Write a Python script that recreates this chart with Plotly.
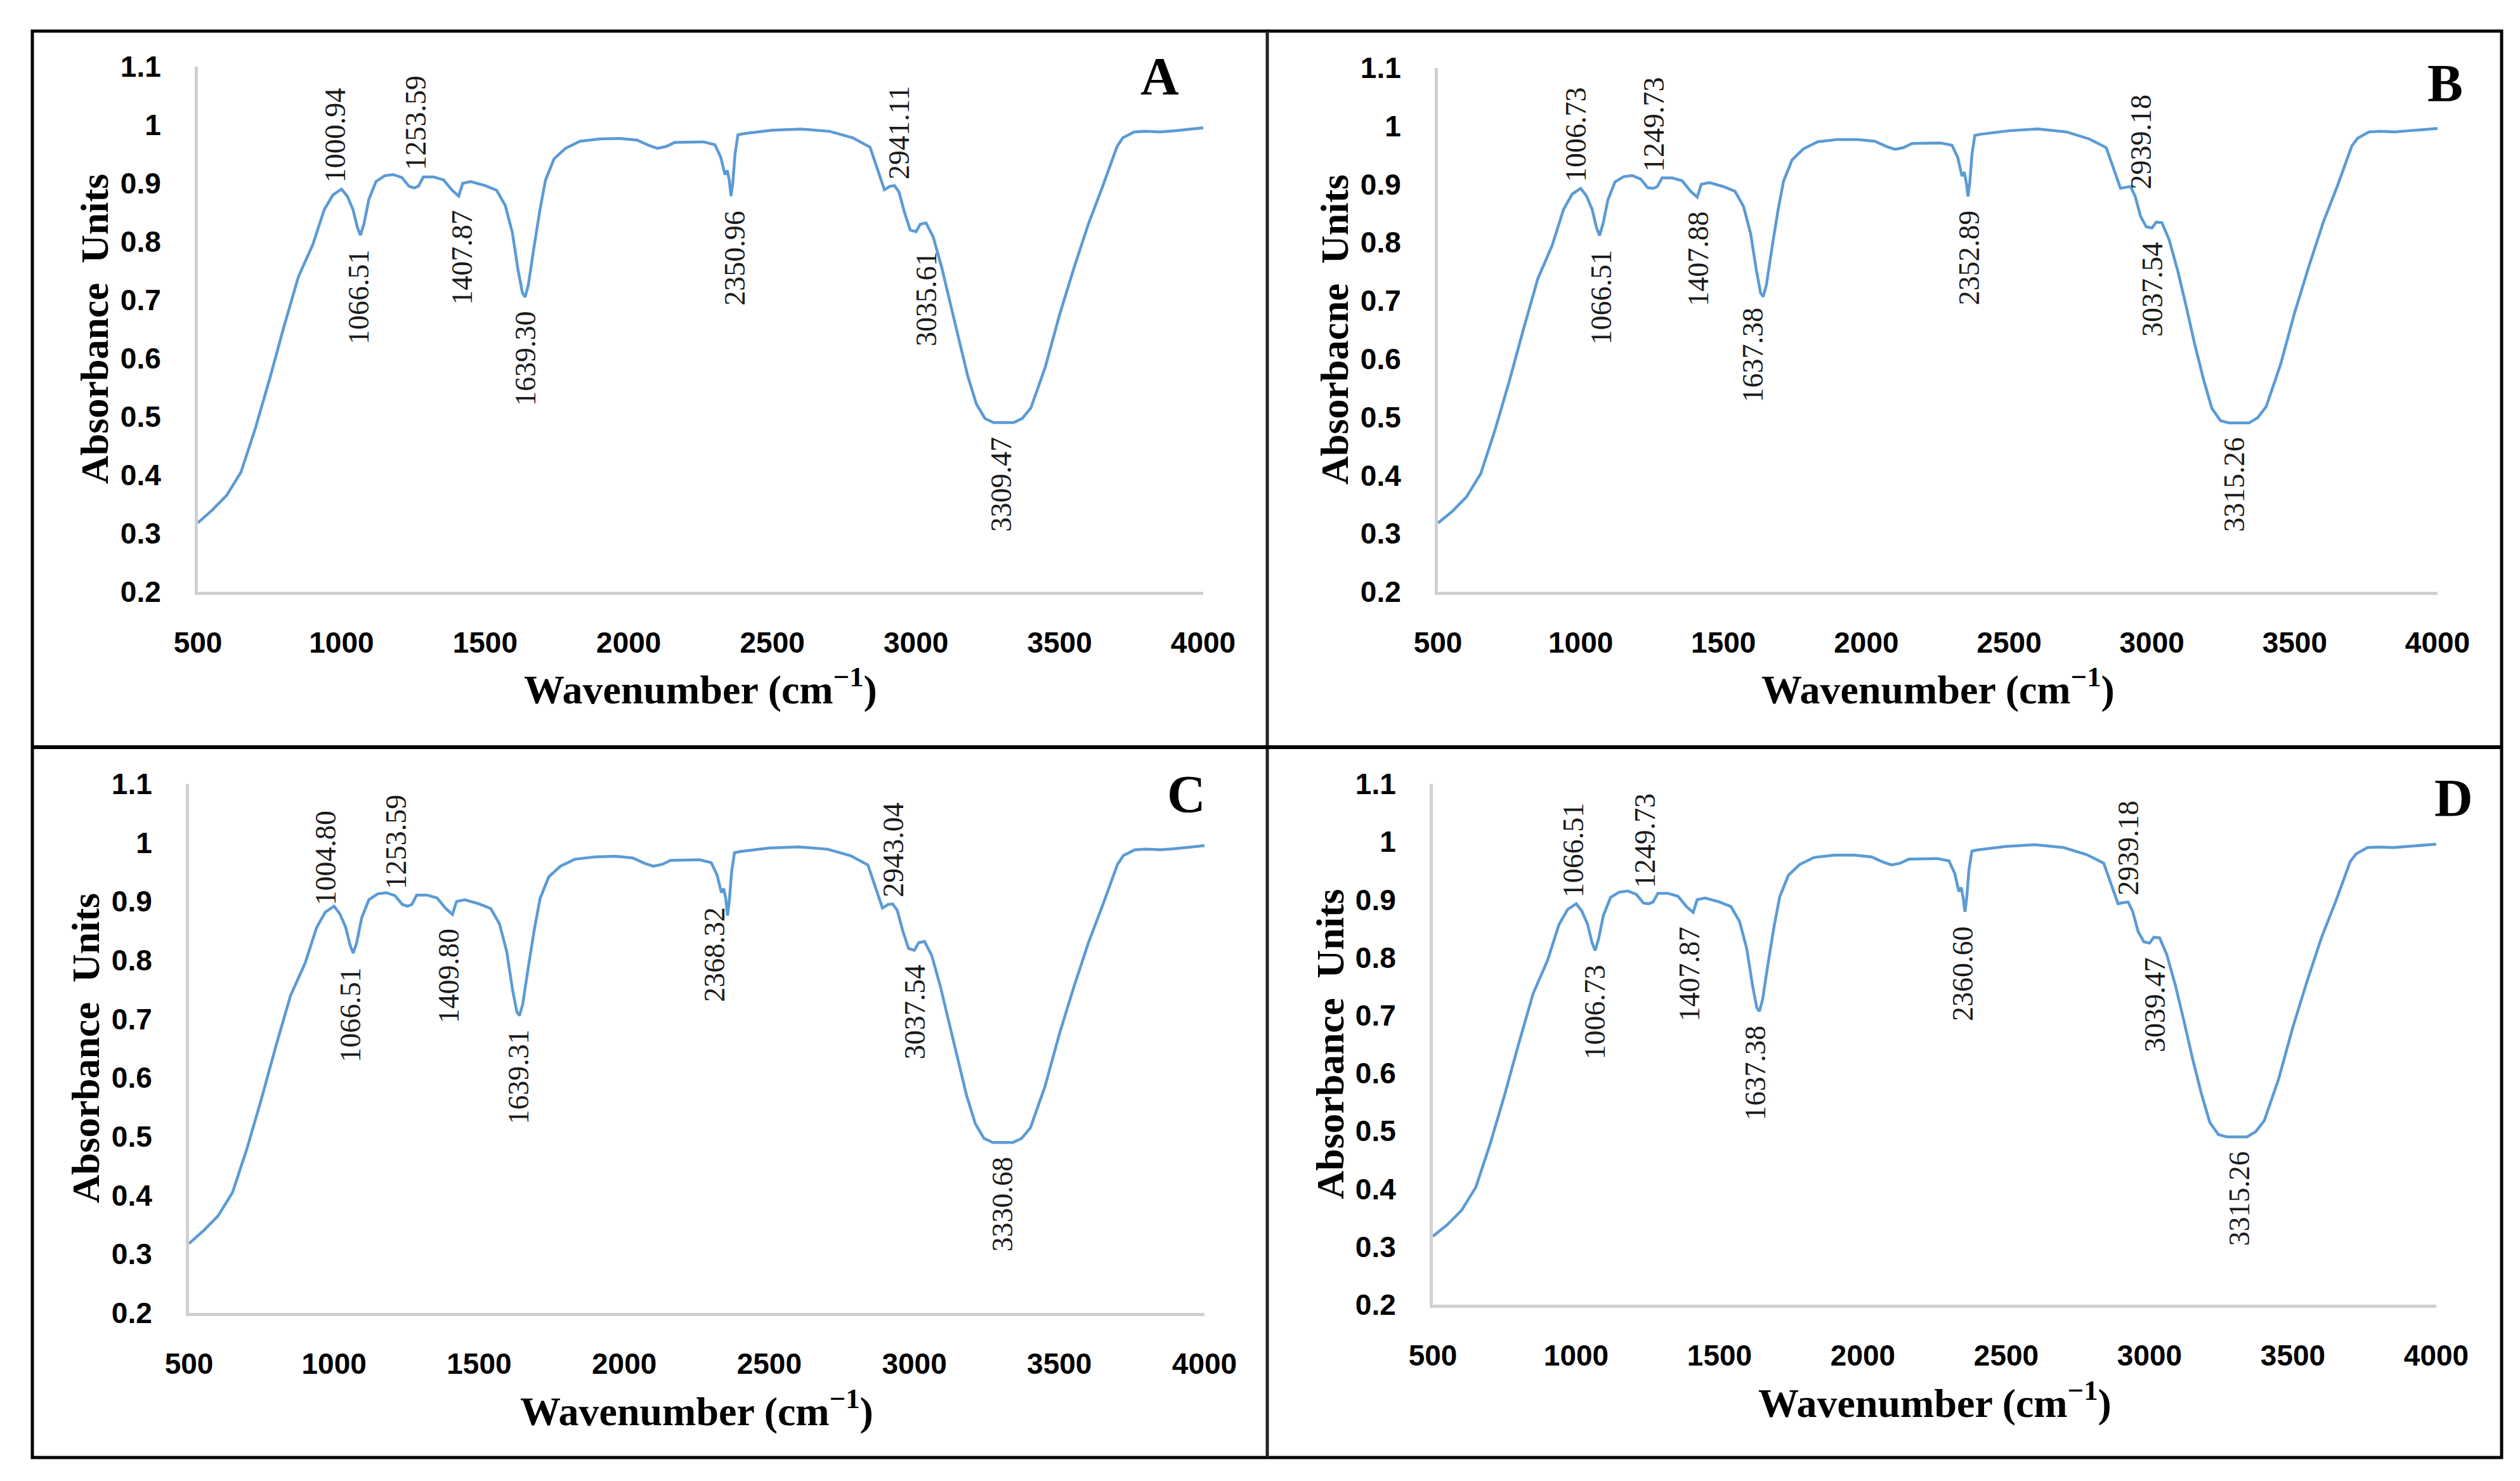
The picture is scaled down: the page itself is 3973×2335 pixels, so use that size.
import numpy as np
import plotly.graph_objects as go

# shared wavenumber grid (cm-1)
wavenumber = [500, 550, 600, 650, 700, 750, 800, 850, 900, 940, 970, 1000, 1020, 1040, 1055,
              1066, 1078, 1095, 1120, 1150, 1180, 1210, 1235, 1253, 1268, 1285, 1320, 1355,
              1385, 1408, 1422, 1450, 1500, 1540, 1570, 1595, 1615, 1630, 1639, 1650, 1670,
              1690, 1710, 1740, 1780, 1830, 1900, 1970, 2030, 2070, 2100, 2130, 2160, 2200,
              2260, 2300, 2320, 2335, 2343, 2350, 2356, 2362, 2370, 2380, 2400, 2500, 2600,
              2700, 2780, 2840, 2870, 2890, 2910, 2925, 2941, 2960, 2980, 3000, 3015, 3035,
              3060, 3090, 3120, 3150, 3180, 3210, 3240, 3270, 3310, 3340, 3370, 3400, 3450,
              3500, 3550, 3600, 3650, 3700, 3720, 3760, 3800, 3850, 3900, 3950, 4000]

absorbance_a = [0.318, 0.340, 0.365, 0.405, 0.480, 0.565, 0.655, 0.740, 0.795, 0.855, 0.880, 0.890, 0.878, 0.855, 0.825,
                0.811, 0.830, 0.872, 0.903, 0.913, 0.915, 0.910, 0.895, 0.892, 0.895, 0.911, 0.911, 0.906,
                0.888, 0.878, 0.900, 0.903, 0.896, 0.888, 0.862, 0.815, 0.750, 0.712, 0.705, 0.725, 0.790,
                0.852, 0.905, 0.942, 0.960, 0.972, 0.976, 0.977, 0.974, 0.965, 0.960, 0.963, 0.970, 0.970,
                0.971, 0.966, 0.945, 0.915, 0.922, 0.905, 0.878, 0.900, 0.950, 0.983, 0.985, 0.991, 0.993,
                0.989, 0.978, 0.962, 0.920, 0.889, 0.895, 0.896, 0.885, 0.850, 0.820, 0.817, 0.830, 0.832,
                0.808, 0.755, 0.693, 0.630, 0.570, 0.522, 0.497, 0.490, 0.490, 0.490, 0.497, 0.515, 0.585,
                0.675, 0.755, 0.830, 0.895, 0.963, 0.978, 0.988, 0.989, 0.988, 0.990, 0.993, 0.995]

absorbance_b = [0.318, 0.338, 0.363, 0.403, 0.478, 0.562, 0.652, 0.738, 0.795, 0.857, 0.883, 0.893, 0.880, 0.857, 0.826,
                0.812, 0.832, 0.873, 0.904, 0.913, 0.915, 0.909, 0.894, 0.893, 0.896, 0.911, 0.911, 0.906,
                0.888, 0.878, 0.900, 0.903, 0.896, 0.888, 0.862, 0.815, 0.752, 0.713, 0.707, 0.727, 0.792,
                0.853, 0.905, 0.942, 0.961, 0.973, 0.977, 0.977, 0.974, 0.965, 0.960, 0.963, 0.970, 0.970,
                0.971, 0.967, 0.946, 0.914, 0.921, 0.903, 0.879, 0.902, 0.952, 0.984, 0.986, 0.992, 0.995,
                0.990, 0.978, 0.963, 0.921, 0.893, 0.895, 0.896, 0.880, 0.845, 0.827, 0.825, 0.835, 0.834,
                0.805, 0.752, 0.690, 0.625, 0.566, 0.515, 0.494, 0.490, 0.490, 0.490, 0.499, 0.518, 0.590,
                0.680, 0.760, 0.835, 0.898, 0.966, 0.979, 0.990, 0.991, 0.990, 0.992, 0.994, 0.996]

absorbance_c = [0.318, 0.340, 0.365, 0.405, 0.480, 0.565, 0.655, 0.740, 0.795, 0.856, 0.882, 0.892, 0.879, 0.856, 0.826,
                0.812, 0.830, 0.872, 0.903, 0.913, 0.915, 0.910, 0.895, 0.892, 0.895, 0.911, 0.911, 0.906,
                0.888, 0.878, 0.900, 0.903, 0.896, 0.888, 0.862, 0.815, 0.750, 0.712, 0.706, 0.725, 0.790,
                0.852, 0.905, 0.942, 0.960, 0.972, 0.976, 0.977, 0.974, 0.965, 0.960, 0.963, 0.970, 0.970,
                0.971, 0.966, 0.945, 0.915, 0.922, 0.905, 0.876, 0.900, 0.950, 0.983, 0.985, 0.991, 0.993,
                0.989, 0.978, 0.962, 0.920, 0.889, 0.895, 0.896, 0.885, 0.850, 0.820, 0.817, 0.830, 0.832,
                0.808, 0.755, 0.693, 0.630, 0.570, 0.522, 0.497, 0.490, 0.490, 0.490, 0.497, 0.515, 0.585,
                0.675, 0.755, 0.830, 0.895, 0.963, 0.978, 0.988, 0.989, 0.988, 0.990, 0.993, 0.995]

absorbance_d = [0.318, 0.338, 0.363, 0.403, 0.478, 0.562, 0.652, 0.738, 0.795, 0.857, 0.883, 0.893, 0.880, 0.857, 0.826,
                0.812, 0.832, 0.873, 0.904, 0.913, 0.915, 0.909, 0.894, 0.893, 0.896, 0.911, 0.911, 0.906,
                0.888, 0.878, 0.900, 0.903, 0.896, 0.888, 0.862, 0.815, 0.752, 0.713, 0.707, 0.727, 0.792,
                0.853, 0.905, 0.942, 0.961, 0.973, 0.977, 0.977, 0.974, 0.965, 0.960, 0.963, 0.970, 0.970,
                0.971, 0.967, 0.946, 0.914, 0.921, 0.903, 0.879, 0.902, 0.952, 0.984, 0.986, 0.992, 0.995,
                0.990, 0.978, 0.963, 0.921, 0.893, 0.895, 0.896, 0.880, 0.845, 0.827, 0.825, 0.835, 0.834,
                0.805, 0.752, 0.690, 0.625, 0.566, 0.515, 0.494, 0.490, 0.490, 0.490, 0.499, 0.518, 0.590,
                0.680, 0.760, 0.835, 0.898, 0.966, 0.979, 0.990, 0.991, 0.990, 0.992, 0.994, 0.996]

# peak labels: text, wavenumber where it sits, side of the curve
labels_a = ['1000.94', '1253.59', '2941.11', '1066.51', '1407.87', '1639.30', '2350.96', '3035.61', '3309.47']
label_wn_a = [977, 1259, 2941, 1061, 1420, 1641, 2369, 3036, 3296]
label_side_a = ['up', 'up', 'up', 'down', 'down', 'down', 'down', 'down', 'down']

labels_b = ['1006.73', '1249.73', '2939.18', '1066.51', '1407.88', '1637.38', '2352.89', '3037.54', '3315.26']
label_wn_b = [984, 1256, 2962, 1071, 1413, 1602, 2360, 3002, 3289]
label_side_b = ['up', 'up', 'up', 'down', 'down', 'down', 'down', 'down', 'down']

labels_c = ['1004.80', '1253.59', '2943.04', '1066.51', '1409.80', '1639.31', '2368.32', '3037.54', '3330.68']
label_wn_c = [969, 1213, 2926, 1057, 1396, 1634, 2311, 3001, 3303]
label_side_c = ['up', 'up', 'up', 'down', 'down', 'down', 'down', 'down', 'down']

labels_d = ['1066.51', '1249.73', '2939.18', '1006.73', '1407.87', '1637.38', '2360.60', '3039.47', '3315.26']
label_wn_d = [990, 1239, 2924, 1066, 1396, 1624, 2348, 3020, 3312]
label_side_d = ['up', 'up', 'up', 'down', 'down', 'down', 'down', 'down', 'down']

panel_letters = ['A', 'B', 'C', 'D']
y_titles = ['Absorbance  Units', 'Absorbacne  Units', 'Absorbance  Units', 'Absorbance  Units']
x_title = 'Wavenumber (cm<sup>\u22121</sup>)'
y_ticks = [0.2, 0.3, 0.4, 0.5, 0.6, 0.7, 0.8, 0.9, 1.0, 1.1]
y_ticktext = ['0.2', '0.3', '0.4', '0.5', '0.6', '0.7', '0.8', '0.9', '1', '1.1']
x_ticks = [500, 1000, 1500, 2000, 2500, 3000, 3500, 4000]


W, H = 3973, 2335
# plot boxes in pixels: left, right, top, bottom
boxes = [(304, 1889, 97, 925),
         (2259, 3835, 99, 925),
         (290, 1891, 1228, 2062),
         (2251, 3833, 1228, 2049)]
letter_pos = [(1820, 112), (3847, 124), (1862, 1244), (3860, 1250)]

spectra = [absorbance_a, absorbance_b, absorbance_c, absorbance_d]
all_labels = [(labels_a, label_wn_a, label_side_a),
              (labels_b, label_wn_b, label_side_b),
              (labels_c, label_wn_c, label_side_c),
              (labels_d, label_wn_d, label_side_d)]

blue = '#5B9BD5'
serif = 'Liberation Serif'
sans = 'Liberation Sans'

fig = go.Figure()
layout = {}
annotations = []
wn = np.array(wavenumber)

for i in range(4):
    n = '' if i == 0 else str(i + 1)
    l, r, t, b = boxes[i]
    ab = np.array(spectra[i])
    fig.add_trace(go.Scatter(x=wavenumber, y=spectra[i],
                             mode='lines',
                             line={'color': blue, 'width': 4.5},
                             xaxis='x' + n, yaxis='y' + n,
                             showlegend=False, hoverinfo='skip'))
    layout['xaxis' + n] = {'domain': [l / W, r / W],
                           'anchor': 'y' + n,
                           'range': [500, 4000],
                           'automargin': False,
                           'tickvals': x_ticks,
                           'tickfont': {'family': sans, 'size': 46, 'color': 'black', 'weight': 'bold'},
                           'ticks': '',
                           'ticklabelstandoff': 36,
                           'showgrid': False,
                           'zeroline': False,
                           'showline': True,
                           'linecolor': '#d0d0d0',
                           'linewidth': 5}
    layout['yaxis' + n] = {'domain': [1 - b / H, 1 - t / H],
                           'anchor': 'x' + n,
                           'range': [0.2, 1.1],
                           'automargin': False,
                           'tickvals': y_ticks,
                           'ticktext': y_ticktext,
                           'tickfont': {'family': sans, 'size': 46, 'color': 'black', 'weight': 'bold'},
                           'ticks': '',
                           'ticklabelstandoff': 44,
                           'showgrid': False,
                           'zeroline': False,
                           'showline': True,
                           'linecolor': '#d0d0d0',
                           'linewidth': 5}
    # axis titles
    annotations.append(dict(text='<b>' + y_titles[i] + '</b>', textangle=-90,
                            x=(l - 163) / W, y=1 - (t + b) / 2 / H,
                            xref='paper', yref='paper', xanchor='center', yanchor='middle',
                            showarrow=False,
                            font={'family': serif, 'size': 62, 'color': 'black'}))
    annotations.append(dict(text='<b>' + x_title + '</b>',
                            x=(l + r) / 2 / W, y=1 - (b + 150) / H,
                            xref='paper', yref='paper', xanchor='center', yanchor='middle',
                            showarrow=False,
                            font={'family': serif, 'size': 64, 'color': 'black'}))
    # panel letter
    annotations.append(dict(text='<b>' + panel_letters[i] + '</b>',
                            x=letter_pos[i][0] / W, y=1 - letter_pos[i][1] / H,
                            xref='paper', yref='paper', xanchor='center', yanchor='middle',
                            showarrow=False,
                            font={'family': serif, 'size': 84, 'color': 'black'}))
    # peak labels
    texts, pos, sides = all_labels[i]
    for txt, p, s in zip(texts, pos, sides):
        win = (wn >= p - 30) & (wn <= p + 30)
        if s == 'up':
            yv = ab[win].max()
            ya, ys = 'bottom', 8
        else:
            yv = ab[win].min()
            ya, ys = 'top', -20
        annotations.append(dict(text=txt, textangle=-90,
                                x=p, y=yv, xref='x' + n, yref='y' + n,
                                xanchor='center', yanchor=ya, yshift=ys,
                                showarrow=False,
                                font={'family': serif, 'size': 46, 'color': '#1a1a1a'}))

shapes = [dict(type='rect', xref='paper', yref='paper',
               x0=43 / W, x1=3936 / W, y0=1 - 2290 / H, y1=1 - 41 / H,
               line={'color': 'black', 'width': 5}),
          dict(type='line', xref='paper', yref='paper',
               x0=1990 / W, x1=1990 / W, y0=1 - 2290 / H, y1=1 - 41 / H,
               line={'color': '#222222', 'width': 5}),
          dict(type='line', xref='paper', yref='paper',
               x0=43 / W, x1=3936 / W, y0=1 - 1170 / H, y1=1 - 1170 / H,
               line={'color': 'black', 'width': 6})]

fig.update_layout(layout)
fig.update_layout(template='none',
                  width=W, height=H,
                  margin={'l': 0, 'r': 0, 't': 0, 'b': 0, 'pad': 0, 'autoexpand': False},
                  paper_bgcolor='white',
                  plot_bgcolor='white',
                  annotations=annotations,
                  shapes=shapes,
                  font={'family': serif, 'color': 'black'})

fig.write_html('out.html')
